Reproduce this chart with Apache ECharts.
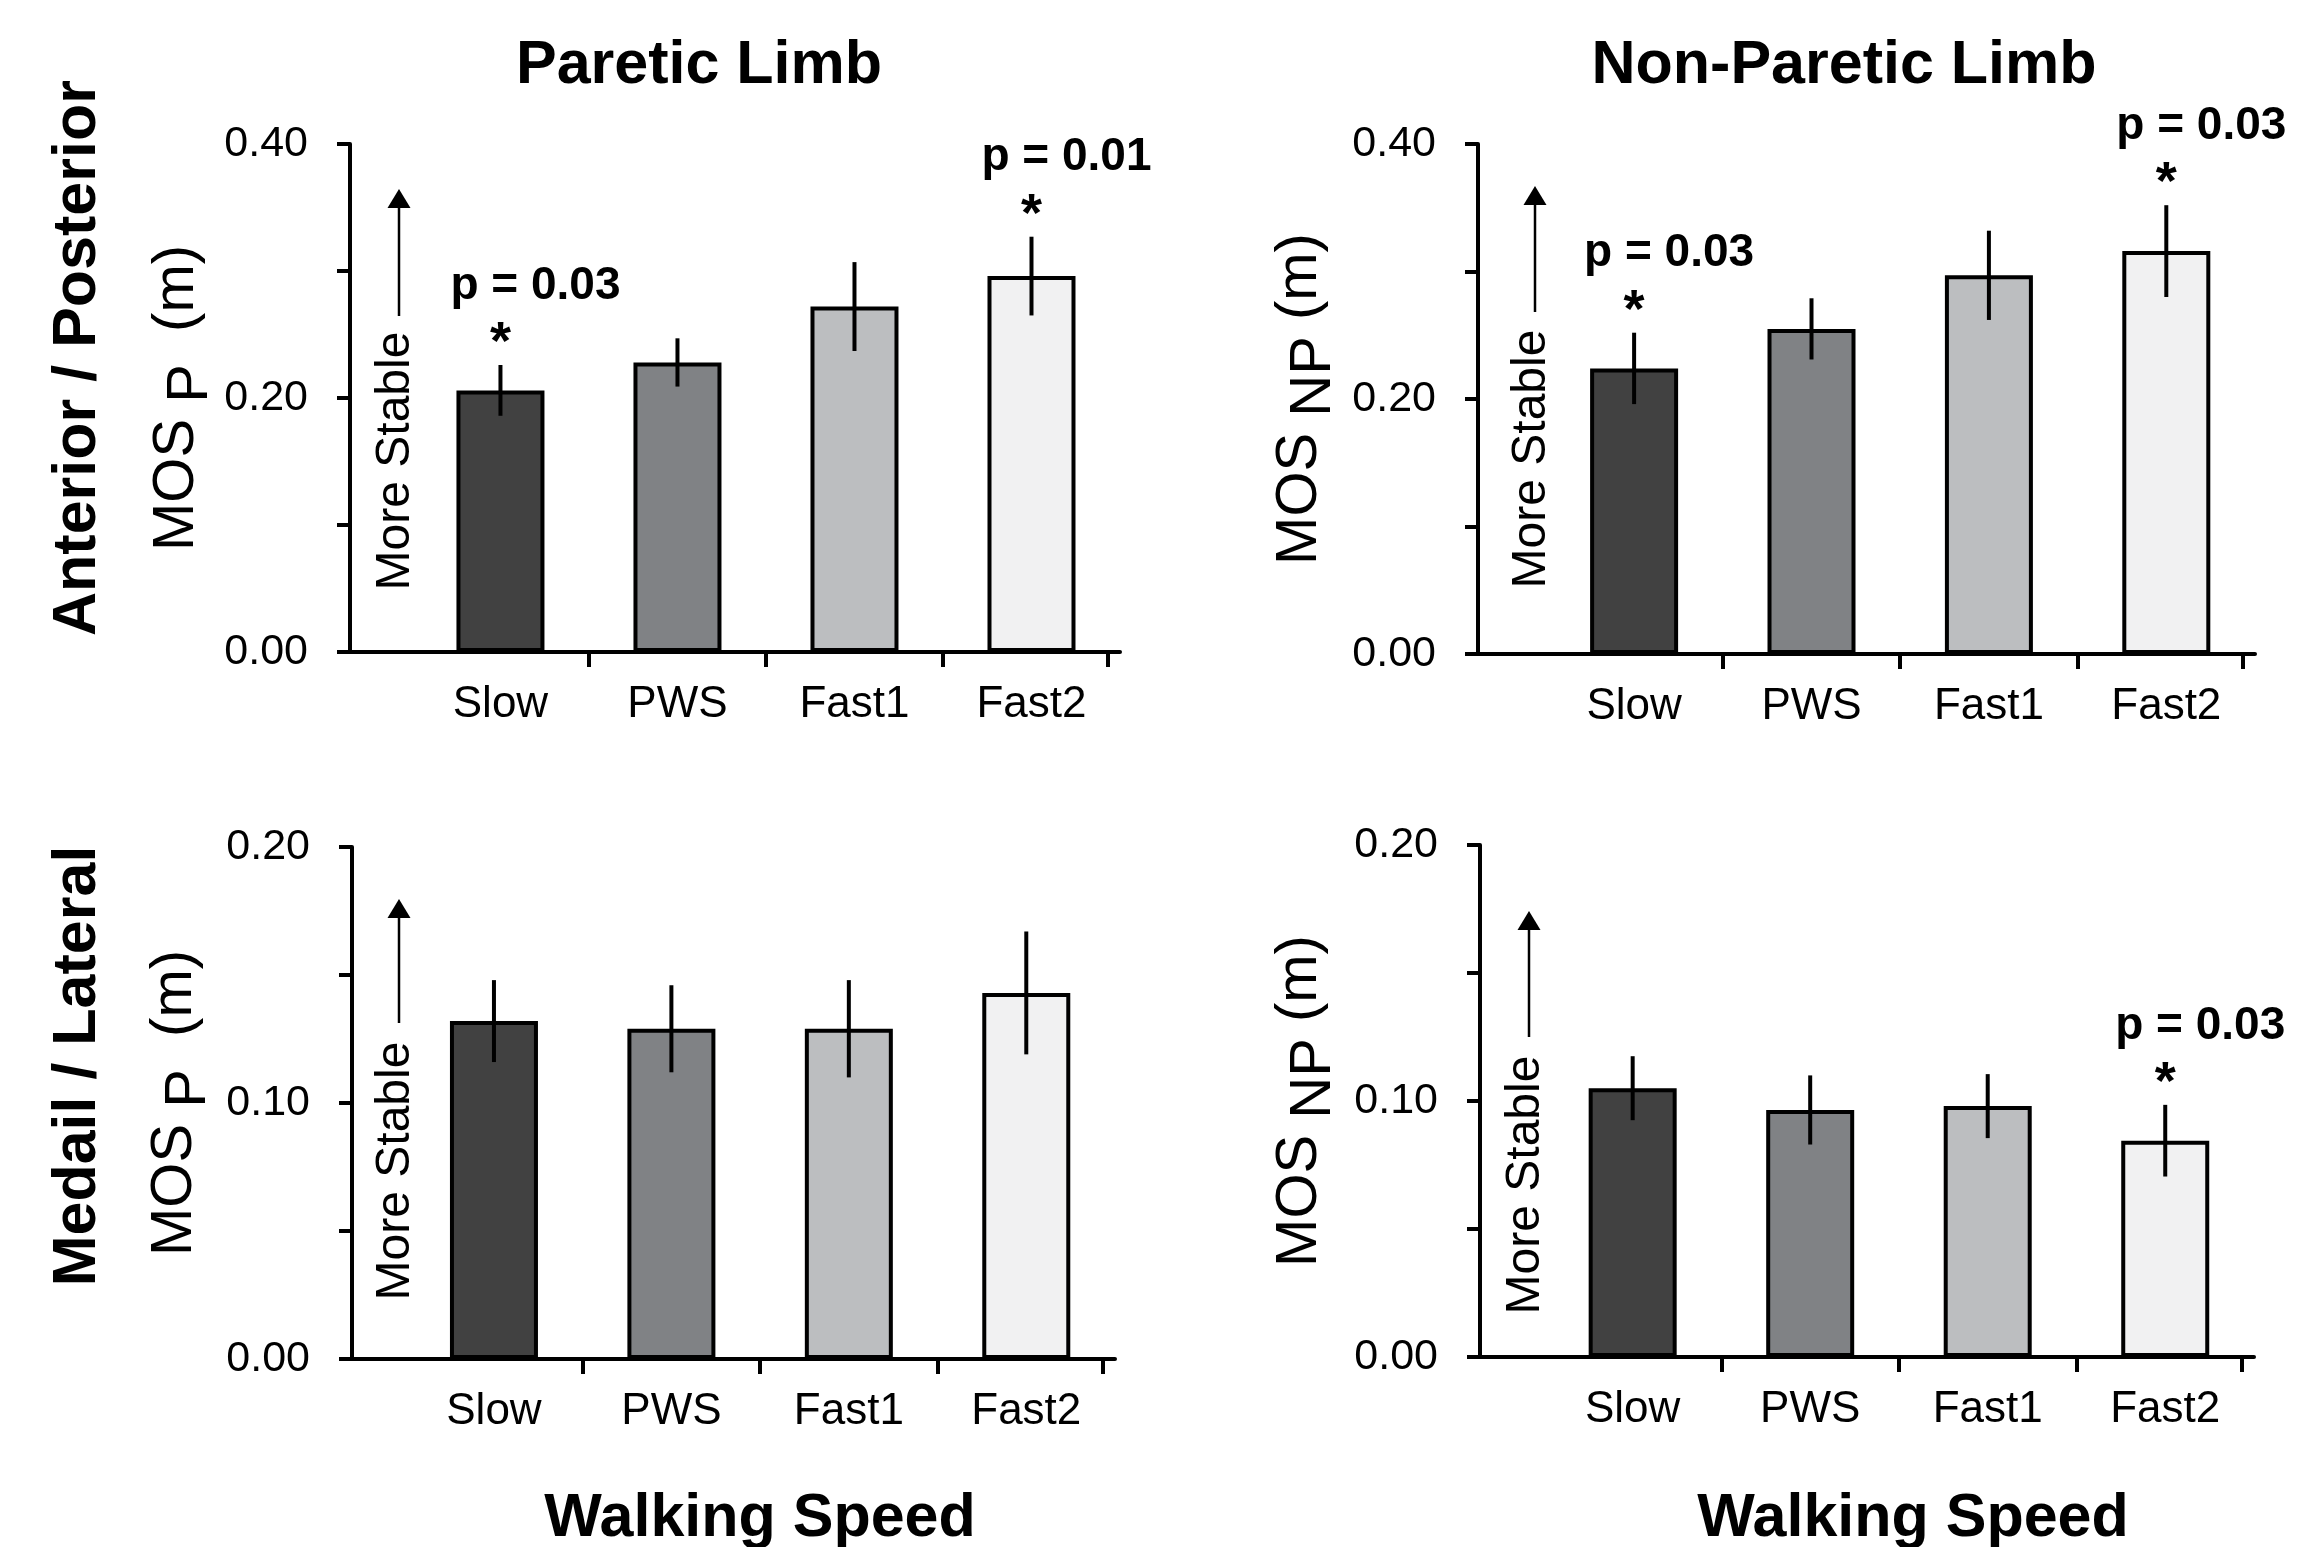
<!DOCTYPE html>
<html>
<head>
<meta charset="utf-8">
<title>Margin of stability by walking speed</title>
<script src="https://cdn.jsdelivr.net/npm/echarts@6/dist/echarts.min.js"></script>
<style>
  html, body { margin: 0; padding: 0; background: #fff; }
  #chart { width: 2318px; height: 1547px; }
</style>
</head>
<body>
<div id="chart"></div>
<script>
// walking speed conditions
var speeds = ['Slow', 'PWS', 'Fast1', 'Fast2'];

// anterior / posterior MOS (m), mean and error
var apParetic = [0.206, 0.228, 0.272, 0.296];
var apPareticErr = [0.020, 0.019, 0.035, 0.031];
var apNonParetic = [0.224, 0.255, 0.297, 0.316];
var apNonPareticErr = [0.028, 0.024, 0.035, 0.036];

// medial / lateral MOS (m), mean and error
var mlParetic = [0.132, 0.129, 0.129, 0.143];
var mlPareticErr = [0.016, 0.017, 0.019, 0.024];
var mlNonParetic = [0.105, 0.0965, 0.098, 0.0845];
var mlNonPareticErr = [0.0125, 0.0135, 0.0125, 0.014];

// p values shown above the bars (null = none)
var apPareticP = ['0.03', null, null, '0.01'];
var apNonPareticP = ['0.03', null, null, '0.03'];
var mlPareticP = [null, null, null, null];
var mlNonPareticP = [null, null, null, '0.03'];

// labelled y ticks
var apTicks = [0, 0.2, 0.4];
var mlTicks = [0, 0.1, 0.2];

var FONT = "'Liberation Sans', Arial, sans-serif";
var barColors = ['#414141', '#808285', '#bcbec0', '#f1f1f2'];

// one entry per panel: data + layout
var panels = [
    { mean: apParetic, err: apPareticErr, sig: apPareticP, ticks: apTicks, max: 0.4, sub: 'P',
      grid: { left: 350, top: 144, width: 770, height: 508 }, xMin: -0.85, nameGap: 124 },
    { mean: apNonParetic, err: apNonPareticErr, sig: apNonPareticP, ticks: apTicks, max: 0.4, sub: 'NP',
      grid: { left: 1478, top: 144, width: 777, height: 510 }, xMin: -0.88, nameGap: 131 },
    { mean: mlParetic, err: mlPareticErr, sig: mlPareticP, ticks: mlTicks, max: 0.2, sub: 'P',
      grid: { left: 352, top: 847, width: 763, height: 512 }, xMin: -0.80, nameGap: 130 },
    { mean: mlNonParetic, err: mlNonPareticErr, sig: mlNonPareticP, ticks: mlTicks, max: 0.2, sub: 'NP',
      grid: { left: 1480, top: 845, width: 774, height: 512 }, xMin: -0.86, nameGap: 133 }
];

var chart = echarts.init(document.getElementById('chart'));

var grids = [], xAxes = [], yAxes = [], series = [];
panels.forEach(function (p, i) {
    grids.push(p.grid);
    xAxes.push({
        type: 'value',
        gridIndex: i,
        min: p.xMin,
        max: 3.5,
        axisLine: { show: true, onZero: false, lineStyle: { color: '#000', width: 4 } },
        axisTick: { show: true, length: 15, customValues: [0.5, 1.5, 2.5, 3.43], lineStyle: { color: '#000', width: 4 } },
        axisLabel: {
            customValues: [0, 1, 2, 3],
            formatter: function (v) { return speeds[Math.round(v)]; },
            color: '#000', fontFamily: FONT, fontSize: 44, margin: 31
        },
        splitLine: { show: false }
    });
    yAxes.push({
        type: 'value',
        gridIndex: i,
        min: 0,
        max: p.max,
        interval: p.max / 4,
        axisLine: { show: true, onZero: false, lineStyle: { color: '#000', width: 4 } },
        axisTick: { show: true, length: 13, lineStyle: { color: '#000', width: 4 } },
        axisLabel: {
            customValues: p.ticks,
            formatter: function (v) { return v.toFixed(2); },
            color: '#000', fontFamily: FONT, fontSize: 43, margin: 42
        },
        splitLine: { show: false },
        // subscript-like P / NP: same size, dropped toward the axis
        name: '{m|MOS }{s|' + p.sub + '}{m|' + (p.sub === 'P' ? '  (m)' : ' (m)') + '}',
        nameLocation: 'middle',
        nameRotate: 90,
        nameGap: p.nameGap,
        nameTextStyle: {
            color: '#000', fontFamily: FONT, fontSize: 58,
            rich: {
                m: { fontFamily: FONT, fontSize: 58, lineHeight: 76, verticalAlign: 'top', color: '#000' },
                s: { fontFamily: FONT, fontSize: 58, lineHeight: 76, verticalAlign: 'top', padding: [14, 0, 0, 0], color: '#000' }
            }
        }
    });

    series.push({
        type: 'bar',
        xAxisIndex: i,
        yAxisIndex: i,
        barWidth: 88,
        itemStyle: { borderColor: '#000', borderWidth: 4 },
        data: p.mean.map(function (v, k) {
            return { value: [k, v], itemStyle: { color: barColors[k] } };
        }),
        z: 2
    });
    // error bars, no caps
    series.push({
        type: 'custom',
        xAxisIndex: i,
        yAxisIndex: i,
        data: p.mean.map(function (v, k) { return [k, v - p.err[k], v + p.err[k]]; }),
        encode: { x: 0, y: [1, 2] },
        renderItem: function (params, api) {
            var lo = api.coord([api.value(0), api.value(1)]);
            var hi = api.coord([api.value(0), api.value(2)]);
            return {
                type: 'line',
                shape: { x1: lo[0], y1: lo[1], x2: hi[0], y2: hi[1] },
                style: { stroke: '#000', lineWidth: 4 }
            };
        },
        z: 3
    });
    var sigData = [];
    p.sig.forEach(function (pv, k) {
        if (pv) sigData.push([k, p.mean[k] + p.err[k], pv]);
    });
    if (sigData.length) {
        series.push({
            type: 'scatter',
            xAxisIndex: i,
            yAxisIndex: i,
            data: sigData,
            symbolSize: 1,
            itemStyle: { color: 'rgba(0,0,0,0)', opacity: 1 },
            label: {
                show: true, position: 'inside', offset: [0, -21], opacity: 1,
                formatter: '*', textBorderWidth: 0,
                color: '#000', fontFamily: FONT, fontWeight: 'bold', fontSize: 54
            },
            z: 4
        });
        series.push({
            type: 'scatter',
            xAxisIndex: i,
            yAxisIndex: i,
            data: sigData,
            symbolSize: 1,
            itemStyle: { color: 'rgba(0,0,0,0)', opacity: 1 },
            label: {
                show: true, position: 'inside', offset: [35, -79], opacity: 1,
                formatter: function (d) { return 'p = ' + d.value[2]; },
                textBorderWidth: 0,
                color: '#000', fontFamily: FONT, fontWeight: 'bold', fontSize: 46
            },
            z: 4
        });
    }
});

function txt(x, y, text, size, bold, rot) {
    return {
        type: 'text', x: x, y: y, rotation: rot || 0,
        style: {
            x: 0, y: 0, text: text, fill: '#000',
            font: (bold ? 'bold ' : '') + size + 'px ' + FONT,
            align: 'center', verticalAlign: 'middle',
            textAlign: 'center', textVerticalAlign: 'middle'
        }
    };
}
function arrow(x, tip, bottom) {
    return [
        { type: 'line', shape: { x1: x, y1: bottom, x2: x, y2: tip + 15 }, style: { stroke: '#000', lineWidth: 2.5 } },
        { type: 'polygon', shape: { points: [[x, tip], [x - 11.5, tip + 19], [x + 11.5, tip + 19]] }, style: { fill: '#000' } }
    ];
}

var graphics = [
    txt(699, 66, 'Paretic Limb', 61, true),
    txt(1844, 66, 'Non-Paretic Limb', 61, true),
    txt(78, 358, 'Anterior / Posterior', 61, true, Math.PI / 2),
    txt(78, 1066, 'Medail / Lateral', 61, true, Math.PI / 2),
    txt(760, 1519, 'Walking Speed', 61, true),
    txt(1913, 1519, 'Walking Speed', 61, true),
    txt(396, 461, 'More Stable', 48, false, Math.PI / 2),
    txt(1532, 459, 'More Stable', 48, false, Math.PI / 2),
    txt(396, 1171, 'More Stable', 48, false, Math.PI / 2),
    txt(1526, 1185, 'More Stable', 48, false, Math.PI / 2)
].concat(arrow(399, 189, 316), arrow(1535, 186, 312), arrow(399, 899, 1023), arrow(1529, 911, 1037));

chart.setOption({
    backgroundColor: '#fff',
    animation: false,
    grid: grids,
    xAxis: xAxes,
    yAxis: yAxes,
    series: series,
    graphic: { elements: graphics }
});
</script>
</body>
</html>
